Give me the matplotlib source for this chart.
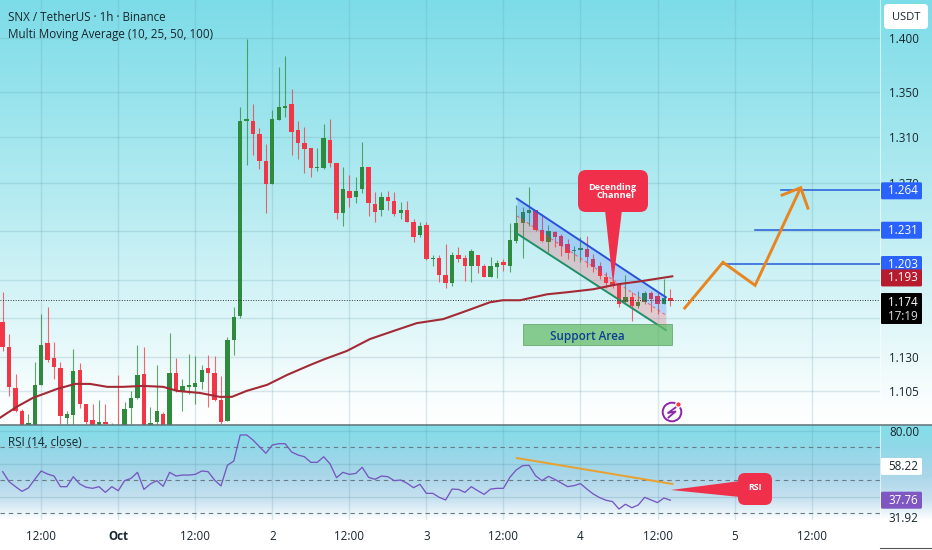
import numpy as np
import matplotlib
matplotlib.use("Agg")
import matplotlib.pyplot as plt
from matplotlib.patches import FancyBboxPatch, Polygon, Circle, Rectangle
from matplotlib.colors import LinearSegmentedColormap
from matplotlib.ticker import NullLocator

plt.rcParams['font.family'] = ['Open Sans', 'Noto Sans', 'DejaVu Sans']

# ---------- data ----------
highs = [1.1804,1.1478,1.1174,1.0916,1.088,1.1264,1.1632,1.1687,1.1416,1.1264,
         1.0902,1.1363,1.1257,1.0952,1.0952,1.0982,1.0952,1.0815,1.1167,1.0967,
         1.1048,1.1393,1.1378,1.0931,1.1242,1.0894,1.1485,1.1295,1.1137,1.1325,
         1.131,1.1242,1.1317,1.131,1.1159,1.1455,1.1687,1.3368,1.399,1.3395,
         1.3182,1.3041,1.3341,1.3731,1.3832,1.353,1.3243,1.319,1.3006,1.3006,
         1.3217,1.3261,1.2876,1.2842,1.2774,1.2757,1.3059,1.2842,1.2629,1.2629,
         1.2638,1.2629,1.2545,1.2553,1.2395,1.237,1.237,1.21,1.21,1.219,
         1.2125,1.2165,1.21,1.2149,1.21,1.2028,1.2084,1.206,1.2068,1.2362,
         1.252,1.2503,1.2671,1.2478,1.2437,1.2345,1.2296,1.2271,1.223,1.2173,
         1.2246,1.2255,1.2108,1.2044,1.1963,1.1907,1.1867,1.1939,1.1804,1.1812,
         1.1812,1.1812,1.1804,1.1907,1.1828]
lows = [1.1348,1.1011,1.0894,1.0758,1.0758,1.0758,1.1093,1.1264,1.1137,1.0808,
        1.0808,1.0794,1.0923,1.0808,1.0772,1.0772,1.0794,1.074,1.0758,1.0758,
        1.0808,1.0989,1.0758,1.0772,1.0794,1.0758,1.0758,1.1041,1.0902,1.1026,
        1.0952,1.1063,1.0931,1.0974,1.0808,1.0829,1.1317,1.1601,1.2859,1.2945,
        1.2825,1.2453,1.2697,1.3252,1.3279,1.2945,1.291,1.279,1.2757,1.2808,
        1.2825,1.2842,1.2395,1.2337,1.2503,1.2537,1.2621,1.242,1.2378,1.242,
        1.247,1.242,1.2395,1.237,1.2206,1.2246,1.206,1.2011,1.1883,1.1836,
        1.1852,1.2044,1.1891,1.1883,1.1955,1.1923,1.1923,1.1915,1.1971,1.1963,
        1.2198,1.2076,1.2337,1.2296,1.2206,1.2125,1.2165,1.2092,1.2068,1.2052,
        1.2044,1.2003,1.1963,1.1907,1.1836,1.1836,1.1687,1.171,1.1578,1.1679,
        1.171,1.1648,1.1632,1.171,1.1694]
opens = [1.157,1.1378,1.107,1.0902,1.0772,1.0772,1.1093,1.1409,1.1295,1.1219,
         1.0851,1.0873,1.1204,1.0952,1.0837,1.0794,1.0822,1.0758,1.0801,1.0772,
         1.0923,1.0996,1.1174,1.0794,1.0822,1.088,1.0772,1.1182,1.1041,1.1078,
         1.1078,1.1115,1.1219,1.1182,1.0982,1.0829,1.1432,1.1617,1.3243,1.3243,
         1.3129,1.2893,1.2697,1.3252,1.3359,1.3395,1.3164,1.305,1.3006,1.2833,
         1.2833,1.3076,1.2876,1.2453,1.2638,1.2587,1.2654,1.2842,1.2528,1.247,
         1.2587,1.2553,1.2445,1.2478,1.237,1.2263,1.2345,1.2068,1.2076,1.1939,
         1.1875,1.21,1.2076,1.2011,1.21,1.2011,1.1923,1.2003,1.2044,1.2011,
         1.2214,1.2362,1.2453,1.247,1.2304,1.2206,1.2288,1.2255,1.219,1.2133,
         1.2141,1.2149,1.2068,1.2011,1.1923,1.1883,1.186,1.1725,1.1765,1.1694,
         1.1725,1.1796,1.1773,1.171,1.1757]
closes = [1.1378,1.1078,1.0902,1.0772,1.0815,1.1093,1.1393,1.128,1.1227,1.0866,
          1.088,1.1197,1.0952,1.0822,1.0794,1.0822,1.0808,1.0786,1.0772,1.0916,
          1.0996,1.1167,1.0772,1.0815,1.0902,1.0772,1.1182,1.1048,1.1085,1.1093,
          1.1107,1.1204,1.1182,1.0982,1.0822,1.1432,1.1609,1.3243,1.3261,1.3129,
          1.2893,1.2697,1.3261,1.3368,1.3377,1.3146,1.305,1.2998,1.2833,1.2842,
          1.3094,1.2876,1.2445,1.2654,1.2579,1.2638,1.2842,1.2537,1.2461,1.2587,
          1.2553,1.2437,1.247,1.237,1.2246,1.2337,1.2068,1.2076,1.1939,1.1875,
          1.21,1.2068,1.2011,1.2133,1.2011,1.1923,1.2011,1.2036,1.2019,1.2222,
          1.2362,1.2461,1.247,1.2304,1.2214,1.2296,1.2246,1.2173,1.2117,1.2141,
          1.2157,1.2084,1.2003,1.1931,1.1875,1.1852,1.171,1.1765,1.1694,1.1725,
          1.1796,1.1749,1.171,1.1757,1.1733]

ma_index = [-0.4,2.2,4.7,8.5,11.3,13.6,16.3,18.7,21.9,25,27.2,30.7,33.8,35.7,38,41.2,44.3,47.9,
            50.2,53.6,57.2,60.8,64.5,68.6,71.7,75.9,77.9,80.6,84.8,87.9,92,95.7,99.3,104.3]
ma_values = [1.0851,1.0931,1.0996,1.1063,1.11,1.11,1.1078,1.1078,1.1085,1.1078,1.1048,1.1033,
             1.1004,1.1004,1.1048,1.1093,1.1167,1.1242,1.1287,1.1348,1.1439,1.15,1.1562,1.1593,
             1.1648,1.1725,1.1741,1.1741,1.1788,1.1804,1.1828,1.1867,1.1891,1.1931]

rsi = [55.05,49.0,45.96,43.13,45.15,50.4,55.45,53.6,52.4,45.96,45.96,52.0,47.6,45.6,44.95,45.96,
       42.5,45.96,43.5,49.6,51.0,54.65,44.3,47.6,49.6,46.2,54.65,52.4,53.0,53.0,53.4,55.45,55.05,
       50.0,46.4,58.9,61.5,77.3,77.3,74.2,70.2,66.2,71.2,72.0,72.0,67.0,65.15,64.1,60.7,60.7,64.1,
       59.7,51.4,54.65,53.4,54.0,57.7,51.6,50.4,52.4,52.0,49.6,50.0,48.0,45.35,47.4,41.9,41.9,39.5,
       37.9,44.5,44.3,42.5,45.96,43.5,41.3,44.5,44.95,44.95,51.6,56.1,58.7,58.9,52.6,49.6,52.2,50.4,
       48.2,45.96,46.6,47.8,44.5,41.5,39.3,37.7,36.9,32.4,35.3,33.2,34.85,39.5,37.9,36.3,39.1,37.76]

price_ticks = [1.400,1.350,1.310,1.270,1.230,1.190,1.160,1.130,1.105]
price_tick_labels = ['1.400','1.350','1.310','1.270','','','','1.130','1.105']
time_tick_index = [6,18,30,42,54,66,78,90,102,114,126]
time_labels = ['12:00','Oct','12:00','2','12:00','3','12:00','4','12:00','5','12:00']
rsi_levels = [70,50,30]
rsi_faint = [80,60,40]
target_prices = [1.264,1.231,1.203]
target_start = [121.2,117.2,112.2]
ma_last, last_price = 1.193, 1.174
rsi_ma_last, rsi_last = 58.22, 37.76

channel_x = [80.1,103.3]
channel_upper = [1.2570,1.1765]
channel_mid = [1.2425,1.1624]
channel_lower = [1.2279,1.1508]
support_x = [81.05,104.25]
support_y = [1.1393,1.1555]
path_x = [106.1,112.2,117.2,124.3]
path_y = [1.1671,1.2044,1.1859,1.2662]
head_x = [121.2,124.3,125.5]
head_y = [1.2595,1.2662,1.2478]
rsi_trend_x = [80.1,104.3]
rsi_trend_y = [63.3,47.6]

W, H, SCALE_X, MAIN_B, RSI_B = 932, 550, 880, 425, 520
GREEN, RED = '#2e8b3d', '#f23645'
INK = '#18262e'
FS = 8.35

fig = plt.figure(figsize=(W/100, H/100), dpi=100)

# ---------- gradient background ----------
bg = fig.add_axes([0,0,1,1], zorder=0); bg.axis('off')
stops = [(0,'#7cdce8'),(200/H,'#b5ebf1'),(405/H,'#fbfefe'),(MAIN_B/H,'#ffffff'),
         ((MAIN_B+0.5)/H,'#82deea'),(445/H,'#8fd9e8'),(475/H,'#a9d6e9'),(500/H,'#c9e2f1'),
         (RSI_B/H,'#ffffff'),(1,'#ffffff')]
cm = LinearSegmentedColormap.from_list('bg', stops, N=1100)
bg.imshow(np.linspace(0,1,1100)[:,None], aspect='auto', cmap=cm, extent=[0,W,H,0], vmin=0, vmax=1)
bg.set_xlim(0,W); bg.set_ylim(H,0)

xlim = ((0-2.67)/6.42, (SCALE_X-2.67)/6.42)

def clean(a):
    a.set_facecolor('none')
    for s in a.spines.values():
        s.set_visible(False)

# ---------- price pane ----------
ax = fig.add_axes([0,(H-MAIN_B)/H,SCALE_X/W,MAIN_B/H], zorder=1)
clean(ax)
ax.set_yscale('log')
ax.set_xlim(*xlim)
ax.set_ylim(1.0798,1.4362)
ax.yaxis.tick_right()
ax.yaxis.set_minor_locator(NullLocator())
ax.set_yticks(price_ticks, price_tick_labels, fontsize=FS, color=INK)
ax.tick_params(axis='y', length=0, pad=6.5)
ax.set_xticks(time_tick_index); ax.tick_params(axis='x', length=0, labelbottom=False)
ax.grid(True, color='#5f9aa8', alpha=0.22, lw=1)
ax.set_axisbelow(True)

idx = np.arange(len(opens))
o,h_,l,c = map(np.array,(opens,highs,lows,closes))
colors = [GREEN if cc>=oo else RED for oo,cc in zip(o,c)]
ax.vlines(idx,l,h_,colors=colors,lw=0.8,alpha=0.75,zorder=3)
ax.bar(idx,np.abs(c-o),bottom=np.minimum(o,c),width=0.68,color=colors,zorder=4,lw=0)

ax.fill_between(channel_x,channel_mid,channel_upper,color='#2962ff',alpha=0.22,lw=0,zorder=5)
ax.fill_between(channel_x,channel_lower,channel_mid,color='#f23645',alpha=0.22,lw=0,zorder=5)
ax.plot(channel_x,channel_mid,color='#f23645',lw=0.7,ls=(0,(3,3)),alpha=0.7,zorder=5)
ax.plot(channel_x,channel_upper,color='#2a52d8',lw=1.4,zorder=6)
ax.plot(channel_x,channel_lower,color='#1f9068',lw=1.4,zorder=6)

ax.plot(ma_index,ma_values,color='#a32a35',lw=1.5,zorder=7)
ax.axhline(last_price,color='#333333',lw=0.7,ls=(0,(1,1.6)),zorder=6)

ax.add_patch(Rectangle((support_x[0],support_y[0]),support_x[1]-support_x[0],support_y[1]-support_y[0],
                       facecolor='#66bb6a',alpha=0.75,edgecolor='#4c9a55',lw=0.6,zorder=6))

for p,s in zip(target_prices,target_start):
    ax.plot([s,xlim[1]],[p,p],color='#3166dc',lw=1.2,zorder=7)
ax.plot(path_x,path_y,color='#e8851f',lw=2.1,zorder=8,solid_joinstyle='miter',solid_capstyle='butt')
ax.plot(head_x,head_y,color='#e8851f',lw=2.1,zorder=8,solid_joinstyle='miter',solid_capstyle='butt')

# ---------- RSI pane ----------
rsi_top = 70+(447-MAIN_B)/1.65
rsi_bot = 70-(RSI_B-447)/1.65
ar = fig.add_axes([0,(H-RSI_B)/H,SCALE_X/W,(RSI_B-MAIN_B)/H], zorder=1)
clean(ar)
ar.set_xlim(*xlim); ar.set_ylim(rsi_bot,rsi_top)
ar.yaxis.tick_right()
ar.set_yticks([80],['80.00'],fontsize=FS,color=INK)
ar.tick_params(axis='y',length=0,pad=6.5)
ar.set_xticks(time_tick_index,time_labels,fontsize=FS,color=INK)
ar.tick_params(axis='x',length=0,pad=7)
for t in ar.get_xticklabels():
    if t.get_text()=='Oct':
        t.set_fontweight('bold')
ar.grid(True,axis='x',color='#5f9aa8',alpha=0.22,lw=1)
for v in rsi_faint:
    ar.axhline(v,color='#5f9aa8',alpha=0.28,lw=0.9,zorder=1)
for v in rsi_levels:
    ar.axhline(v,color='#6b7b85',lw=0.8,ls=(0,(4,3.5)),zorder=2)
ar.set_axisbelow(True)
ar.plot(np.arange(len(rsi)),rsi,color='#7657bf',lw=0.95,zorder=4)
ar.plot(rsi_trend_x,rsi_trend_y,color='#e8a02f',lw=1.4,zorder=5)

# ---------- overlay in pixel coordinates ----------
ov = fig.add_axes([0,0,1,1], zorder=3)
ov.set_xlim(0,W); ov.set_ylim(H,0); ov.axis('off'); ov.patch.set_alpha(0)

def box(x0,y0,x1,y1,color,r=2,ec='none',z=5):
    ov.add_patch(FancyBboxPatch((x0+r,y0+r),x1-x0-2*r,y1-y0-2*r,
                 boxstyle=f'round,pad={r},rounding_size={r}',fc=color,ec=ec,lw=0,zorder=z))

def price_px(v):
    return H-ax.transData.transform((0,v))[1]

def rsi_px(v):
    return H-ar.transData.transform((0,v))[1]

TX = 903
def badge(cy,txt,color,fg='white',h=17):
    box(881,cy-h/2,922,cy+h/2,color,r=1.5)
    ov.text(TX,cy,txt,color=fg,ha='center',va='center',fontsize=FS,zorder=6)

ov.plot([SCALE_X,SCALE_X],[0,MAIN_B],color='white',alpha=0.6,lw=0.8)
ov.plot([SCALE_X,SCALE_X],[MAIN_B,RSI_B],color='white',alpha=0.6,lw=0.8)
ov.plot([0,W],[MAIN_B,MAIN_B],color='#5f6f75',lw=1.1,zorder=4)
ov.plot([SCALE_X,W],[548,548],color='#555555',lw=0.8)

ov.text(587,336.5,'Support Area',color='#0d3f92',ha='center',va='center',fontsize=FS,fontweight='semibold',zorder=8)

for p,col in zip(target_prices,['#2962ff']*3):
    badge(price_px(p)+0.5,f'{p:.3f}',col)
badge(price_px(ma_last)+1.5,f'{ma_last:.3f}','#b71c2e')
box(881,293,922,324,'#000000',r=1)
ov.text(TX,302,f'{last_price:.3f}',color='white',ha='center',va='center',fontsize=FS,zorder=6)
ov.text(TX,316,'17:19',color='#dddddd',ha='center',va='center',fontsize=FS,zorder=6)
box(884,4,928,29,'white',r=4)
ov.text(906,17,'USDT',color=INK,ha='center',va='center',fontsize=8,zorder=6)

badge(rsi_px(rsi_ma_last),f'{rsi_ma_last:.2f}','white',fg=INK)
badge(rsi_px(rsi_last),f'{rsi_last:.2f}','#7e57c2')
ov.text(TX,518,'31.92',color=INK,ha='center',va='center',fontsize=FS,zorder=4)

ov.text(8,17.5,'SNX / TetherUS · 1h · Binance',color=INK,ha='left',va='center',fontsize=FS)
ov.text(8,34.5,'Multi Moving Average (10, 25, 50, 100)',color=INK,ha='left',va='center',fontsize=FS)
ov.text(8,443,'RSI (14, close)',color=INK,ha='left',va='center',fontsize=FS)

# callouts
BUB = '#f0304a'
box(578,170,648,212,BUB,r=8)
ov.add_patch(Polygon([(605,210),(622,210),(613,284)],closed=True,fc=BUB,ec='none',zorder=5))
ov.text(612.5,187,'Decending',color='white',ha='center',va='center',fontsize=6.6,fontweight='bold',zorder=6)
ov.text(615.5,196,'Channel',color='white',ha='center',va='center',fontsize=6.6,fontweight='bold',zorder=6)

box(738,473,772,505,BUB,r=7)
ov.add_patch(Polygon([(740,481),(740,497),(671,490)],closed=True,fc=BUB,ec='none',zorder=5))
ov.text(755,488,'RSI',color='white',ha='center',va='center',fontsize=6.3,fontweight='bold',zorder=6)

# flash icon
ov.add_patch(Circle((672,412),9.3,fc='none',ec='#8e24aa',lw=1.4,zorder=5))
ov.add_patch(Circle((678.5,404.5),3.4,fc='#fdfefe',ec='none',zorder=5))
ov.add_patch(Circle((678.5,404.5),2.1,fc='#f23645',ec='none',zorder=6))
ov.plot([675.5,668,675.5,668.5],[407.5,413,411.5,417.5],color='#8e24aa',lw=1.3,zorder=6)

fig.savefig('out.png',dpi=100)
